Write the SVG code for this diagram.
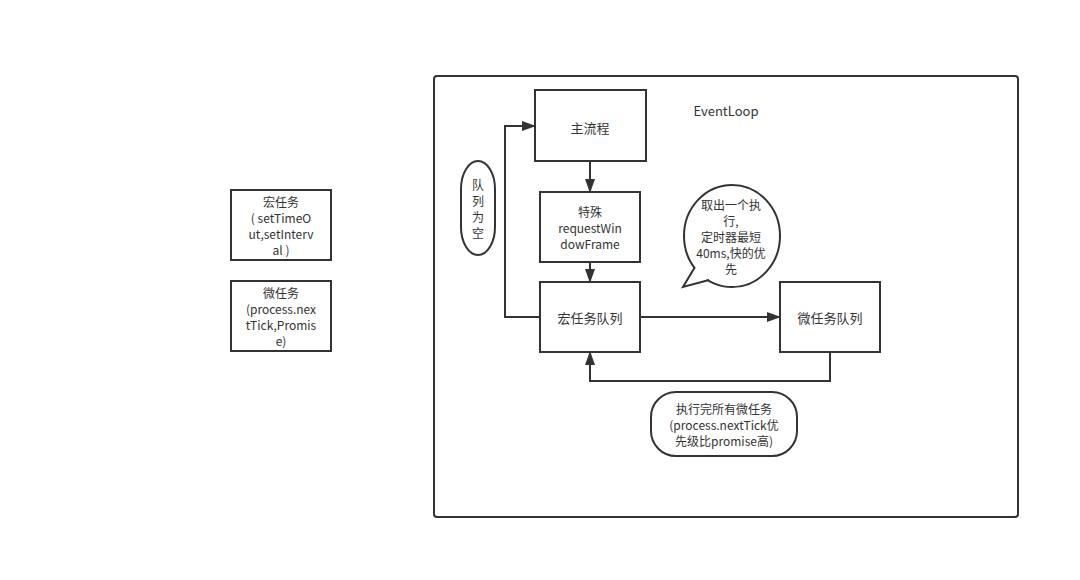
<svg xmlns="http://www.w3.org/2000/svg" width="1080" height="580" viewBox="0 0 1080 580">
<style>
.box{fill:#fff;stroke:#333;stroke-width:2}
.t{font-family:"Noto Sans CJK SC","Open Sans",sans-serif;font-size:12px;fill:#333;text-anchor:middle;dominant-baseline:central}
.s{font-size:13px}
.c{fill:none;stroke:#333;stroke-width:2}
</style>
<defs>
<marker id="ah" markerWidth="14" markerHeight="10" refX="13" refY="5" orient="auto" markerUnits="userSpaceOnUse">
<path d="M0,0 L14,5 L0,10 Z" fill="#333"/>
</marker>
</defs>
<rect width="1080" height="580" fill="#fff"/>
<g id="container">
<rect x="434" y="76" width="584" height="441" rx="3" class="box"/>
<text x="726" y="110" class="t s">EventLoop</text>
</g>
<g id="macro-def">
<rect x="231" y="190" width="100" height="70" class="box"/>
<text class="t"><tspan x="281" y="201">宏任务</tspan><tspan x="281" y="217">( setTimeO</tspan><tspan x="281" y="233">ut,setInterv</tspan><tspan x="281" y="249">al )</tspan></text>
</g>
<g id="micro-def">
<rect x="231" y="281" width="100" height="70" class="box"/>
<text class="t"><tspan x="281" y="292">微任务</tspan><tspan x="281" y="308">(process.nex</tspan><tspan x="281" y="324">tTick,Promis</tspan><tspan x="281" y="340">e)</tspan></text>
</g>
<g id="main">
<rect x="535" y="90" width="111" height="71" class="box"/>
<text x="590" y="127" class="t s">主流程</text>
</g>
<g id="special">
<rect x="540" y="192" width="100" height="70" class="box"/>
<text class="t"><tspan x="590" y="211">特殊</tspan><tspan x="590" y="227">requestWin</tspan><tspan x="590" y="243">dowFrame</tspan></text>
</g>
<g id="macro-queue">
<rect x="540" y="282" width="100" height="70" class="box"/>
<text x="590" y="317" class="t s">宏任务队列</text>
</g>
<g id="micro-queue">
<rect x="780" y="282" width="100" height="70" class="box"/>
<text x="830" y="317" class="t s">微任务队列</text>
</g>
<g id="empty">
<rect x="461" y="161" width="34" height="94" rx="17" ry="28" class="box"/>
<text class="t"><tspan x="478" y="184">队</tspan><tspan x="478" y="200">列</tspan><tspan x="478" y="216">为</tspan><tspan x="478" y="232">空</tspan></text>
</g>
<g id="bubble">
<ellipse cx="732" cy="236" rx="48" ry="51" class="box"/>
<polygon points="695,266 683,287 709,279 712,272 700,262" fill="#fff"/>
<polyline points="695,267 683,287 709,280" fill="none" stroke="#333" stroke-width="2" stroke-linejoin="miter"/>
<text class="t"><tspan x="731" y="204">取出一个执</tspan><tspan x="731" y="220">行,</tspan><tspan x="731" y="236">定时器最短</tspan><tspan x="731" y="252">40ms,快的优</tspan><tspan x="731" y="268">先</tspan></text>
</g>
<g id="note">
<rect x="651" y="392" width="146" height="64" rx="25" ry="25" class="box"/>
<text class="t"><tspan x="724" y="408">执行完所有微任务</tspan><tspan x="724" y="424">(process.nextTick优</tspan><tspan x="724" y="440">先级比promise高)</tspan></text>
</g>
<g id="connectors">
<path d="M590,161 L590,192" class="c" marker-end="url(#ah)"/>
<path d="M590,262 L590,282" class="c" marker-end="url(#ah)"/>
<path d="M540,317 L505,317 L505,126 L535,126" class="c" marker-end="url(#ah)"/>
<path d="M640,317 L780,317" class="c" marker-end="url(#ah)"/>
<path d="M830,352 L830,381 L590,381 L590,352" class="c" marker-end="url(#ah)"/>
</g>
</svg>
